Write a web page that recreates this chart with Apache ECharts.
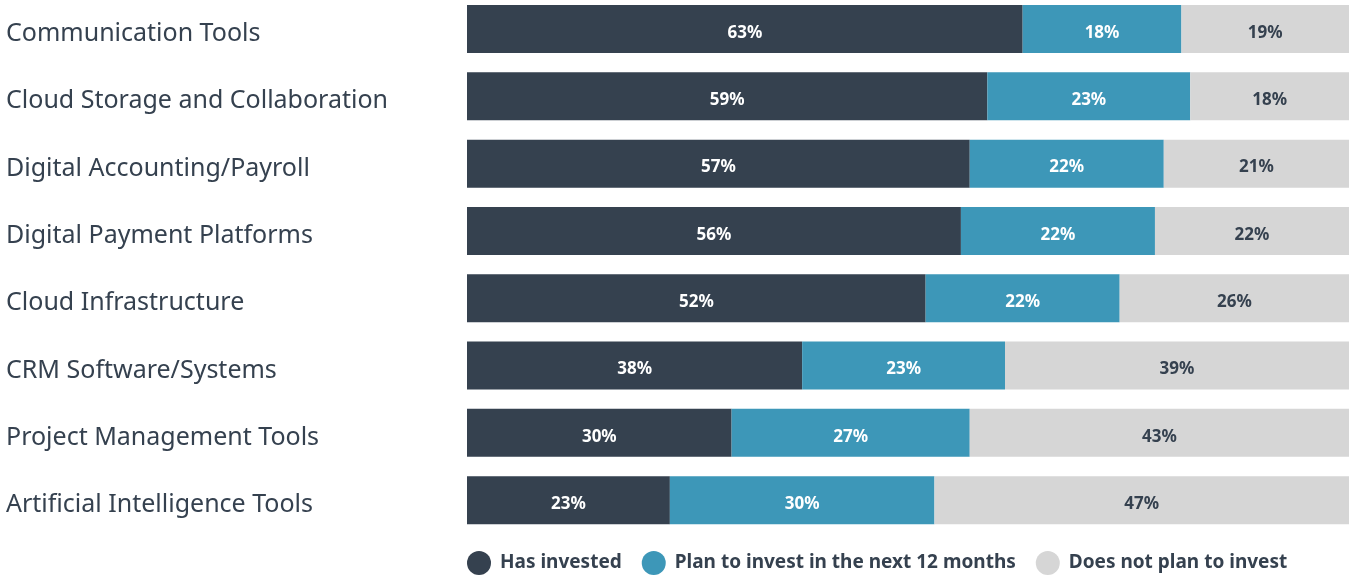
<!DOCTYPE html>
<html>
<head>
<meta charset="utf-8">
<script src="https://cdn.jsdelivr.net/npm/echarts@6/dist/echarts.min.js"></script>
<style>
  html, body { margin: 0; padding: 0; background: #fff; }
  #chart { width: 1351px; height: 575px; }
</style>
</head>
<body>
<div id="chart"></div>
<script>
// 堆叠条形图：投资情况
var categories = ['Communication Tools', 'Cloud Storage and Collaboration', 'Digital Accounting/Payroll',
    'Digital Payment Platforms', 'Cloud Infrastructure', 'CRM Software/Systems',
    'Project Management Tools', 'Artificial Intelligence Tools'];
var hasInvested = [63, 59, 57, 56, 52, 38, 30, 23];
var planToInvest = [18, 23, 22, 22, 22, 23, 27, 30];
var notPlan = [19, 18, 21, 22, 26, 39, 43, 47];
var seriesNames = ['Has invested', 'Plan to invest in the next 12 months', 'Does not plan to invest'];

var colorList = ['#35414f', '#3d97b8', '#d6d6d6'];
var labelColors = ['#ffffff', '#ffffff', '#35414f'];
var fontFamily = '"Noto Sans", sans-serif';

function makeSeries(name, data, i) {
    return {
        name: name,
        type: 'bar',
        stack: 'total',
        barWidth: 48,
        data: data,
        itemStyle: { color: colorList[i] },
        label: {
            show: true,
            position: 'inside',
            formatter: '{c}%',
            offset: [0, 4],
            color: labelColors[i],
            fontFamily: fontFamily,
            fontWeight: 'bold',
            fontSize: 17
        },
        emphasis: { disabled: true }
    };
}

var option = {
    animation: false,
    grid: { left: 467, right: 2, top: -4.6, height: 538.4, outerBoundsMode: 'none' },
    legend: {
        left: 467,
        top: 551,
        padding: 0,
        icon: 'circle',
        itemWidth: 24,
        itemHeight: 24,
        itemGap: 20,
        data: seriesNames,
        textStyle: {
            color: '#35414f',
            fontFamily: fontFamily,
            fontWeight: 'bold',
            fontSize: 19,
            padding: [0, 0, 0, 4]
        }
    },
    xAxis: {
        type: 'value',
        min: 0,
        max: 100,
        show: false
    },
    yAxis: {
        type: 'category',
        inverse: true,
        data: categories,
        axisLine: { show: false },
        axisTick: { show: false },
        axisLabel: {
            align: 'left',
            verticalAlign: 'top',
            lineHeight: 10,
            margin: 461,
            color: '#35414f',
            fontFamily: fontFamily,
            fontSize: 25
        }
    },
    series: [
        makeSeries(seriesNames[0], hasInvested, 0),
        makeSeries(seriesNames[1], planToInvest, 1),
        makeSeries(seriesNames[2], notPlan, 2)
    ]
};

var myChart = echarts.init(document.getElementById('chart'));
myChart.setOption(option);
</script>
</body>
</html>
